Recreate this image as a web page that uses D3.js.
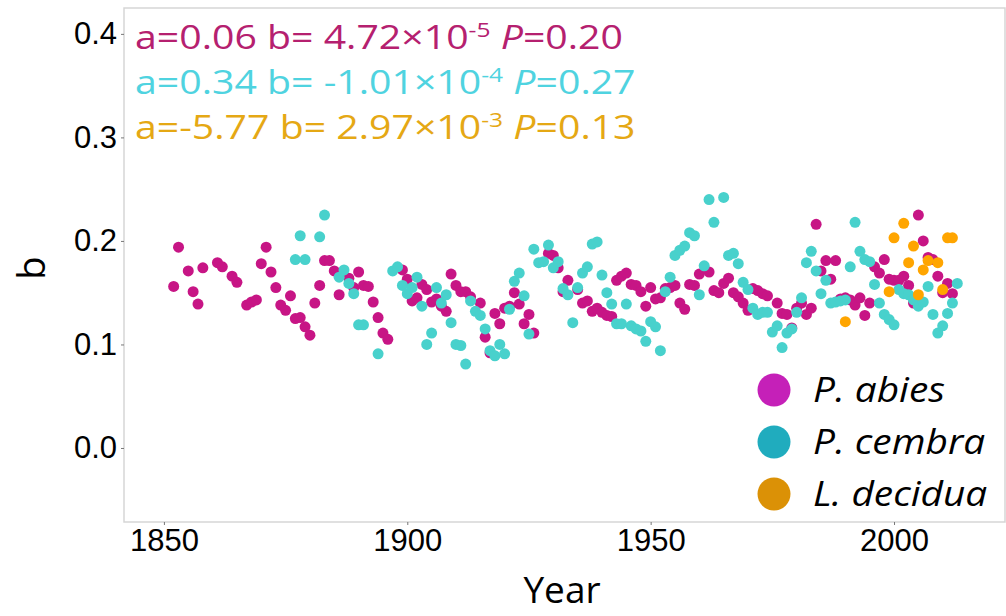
<!DOCTYPE html>
<html>
<head>
<meta charset="utf-8">
<script src="https://cdn.jsdelivr.net/npm/d3@7"></script>
<style>
  body { margin: 0; background: #fff; }
  svg { display: block; }
</style>
</head>
<body>
<div id="chart"></div>
<script>
// P. abies
const abiesYears = [1852,1853,1855,1856,1857,1858,1861,1862,1864,1865,1867,1868,1869,1870,1871,1872,1873,1874,1875,1876,1877,1878,1879,1880,1881,1882,1883,1884,1885,1886,1888,1889,1890,1891,1892,1893,1894,1895,1896,1899,1900,1901,1902,1903,1904,1905,1906,1907,1908,1909,1910,1911,1912,1913,1915,1916,1917,1918,1919,1920,1921,1922,1923,1924,1925,1926,1929,1930,1931,1932,1933,1935,1936,1937,1938,1939,1940,1941,1942,1943,1944,1945,1946,1947,1948,1949,1950,1951,1952,1953,1954,1955,1956,1957,1958,1959,1960,1962,1963,1964,1965,1966,1967,1968,1969,1970,1971,1972,1973,1974,1976,1977,1978,1979,1980,1981,1982,1983,1984,1985,1986,1987,1988,1989,1990,1991,1992,1993,1994,1995,1996,1997,1998,1999,2000,2001,2002,2003,2004,2005,2006,2007,2008,2009,2010,2011,2012];
const abiesB = [0.156,0.194,0.171,0.151,0.139,0.174,0.179,0.175,0.166,0.160,0.138,0.141,0.143,0.178,0.194,0.170,0.155,0.138,0.133,0.147,0.125,0.126,0.117,0.109,0.140,0.157,0.181,0.181,0.171,0.148,0.164,0.155,0.170,0.157,0.156,0.141,0.126,0.111,0.105,0.172,0.163,0.142,0.145,0.158,0.153,0.141,0.144,0.137,0.132,0.168,0.157,0.151,0.151,0.146,0.140,0.107,0.092,0.130,0.120,0.135,0.137,0.150,0.139,0.120,0.129,0.111,0.188,0.186,0.174,0.151,0.162,0.153,0.140,0.142,0.132,0.135,0.131,0.128,0.127,0.162,0.166,0.169,0.158,0.157,0.151,0.137,0.155,0.144,0.145,0.154,0.155,0.157,0.140,0.134,0.158,0.157,0.168,0.170,0.152,0.150,0.159,0.164,0.150,0.146,0.140,0.133,0.154,0.152,0.149,0.147,0.140,0.130,0.129,0.116,0.135,0.140,0.129,0.135,0.216,0.171,0.181,0.163,0.181,0.144,0.145,0.143,0.138,0.145,0.128,0.140,0.175,0.169,0.182,0.163,0.162,0.162,0.166,0.157,0.140,0.225,0.200,0.184,0.182,0.166,0.150,0.159,0.149];

// P. cembra
const cembraYears = [1877,1878,1879,1882,1883,1886,1887,1888,1889,1890,1891,1894,1897,1898,1899,1900,1901,1902,1903,1904,1905,1906,1907,1908,1909,1910,1911,1912,1913,1914,1915,1916,1917,1918,1919,1920,1921,1922,1923,1924,1925,1926,1927,1928,1929,1930,1931,1932,1933,1934,1935,1936,1937,1938,1939,1940,1941,1942,1943,1944,1945,1946,1947,1948,1949,1950,1951,1952,1953,1954,1955,1956,1957,1958,1959,1960,1961,1962,1963,1965,1966,1967,1968,1969,1970,1971,1972,1973,1974,1975,1976,1977,1978,1979,1980,1981,1982,1983,1984,1985,1986,1987,1988,1989,1990,1991,1992,1993,1994,1995,1996,1997,1998,1999,2000,2001,2002,2003,2004,2005,2006,2007,2008,2009,2010,2011,2012,2013];
const cembraB = [0.182,0.205,0.182,0.204,0.225,0.165,0.172,0.159,0.149,0.119,0.119,0.091,0.171,0.175,0.157,0.149,0.155,0.165,0.137,0.100,0.111,0.155,0.140,0.148,0.121,0.100,0.099,0.081,0.142,0.132,0.128,0.115,0.094,0.089,0.100,0.091,0.134,0.161,0.169,0.147,0.110,0.192,0.179,0.180,0.196,0.174,0.180,0.154,0.148,0.121,0.155,0.169,0.175,0.197,0.199,0.167,0.150,0.139,0.120,0.120,0.139,0.118,0.115,0.113,0.103,0.122,0.117,0.094,0.151,0.165,0.186,0.191,0.195,0.208,0.205,0.148,0.176,0.240,0.218,0.242,0.186,0.188,0.178,0.160,0.153,0.135,0.129,0.131,0.131,0.112,0.118,0.097,0.111,0.115,0.131,0.145,0.179,0.190,0.171,0.149,0.162,0.140,0.141,0.142,0.143,0.175,0.218,0.190,0.182,0.180,0.158,0.140,0.129,0.124,0.119,0.153,0.149,0.148,0.143,0.137,0.141,0.156,0.129,0.111,0.118,0.130,0.140,0.159];

// L. decidua
const deciduaYears = [1990,1999,2000,2002,2003,2004,2005,2006,2007,2009,2010,2011,2012];
const deciduaB = [0.122,0.151,0.203,0.217,0.179,0.195,0.148,0.172,0.181,0.179,0.153,0.203,0.203];

const xTicks = [1850, 1900, 1950, 2000];
const yTicks = [0.0, 0.1, 0.2, 0.3, 0.4];

const species = [
  { name: "P. abies", years: abiesYears, b: abiesB, color: "#C71585", key: "#C520B8" },
  { name: "P. cembra", years: cembraYears, b: cembraB, color: "#48D1CC", key: "#20ACBE" },
  { name: "L. decidua", years: deciduaYears, b: deciduaB, color: "#FFA500", key: "#DB9106" }
];

const statLines = [
  { a: "a=0.06 b= 4.72×10", exp: "-5", p: "=0.20", color: "#B5206F" },
  { a: "a=0.34 b= -1.01×10", exp: "-4", p: "=0.27", color: "#4FD3E0" },
  { a: "a=-5.77 b= 2.97×10", exp: "-3", p: "=0.13", color: "#E5A814" }
];

const W = 1006, H = 616;
const oMargin = { top: 8, right: 1, bottom: 94, left: 124 };
const iInnerW = W - oMargin.left - oMargin.right;
const iInnerH = H - oMargin.top - oMargin.bottom;

const svg = d3.select("#chart").append("svg").attr("width", W).attr("height", H);
const g = svg.append("g").attr("transform", `translate(${oMargin.left},${oMargin.top})`);

const x = d3.scaleLinear().domain([1841.8, 2022.8]).range([0, iInnerW]);
const y = d3.scaleLinear().domain([-0.0715, 0.425]).range([iInnerH, 0]);

// panel border
g.append("rect")
  .attr("x", 0).attr("y", 0).attr("width", iInnerW).attr("height", iInnerH)
  .attr("fill", "none").attr("stroke", "#d6d6d6").attr("stroke-width", 1.5);

// axes
const xAxis = g.append("g").attr("transform", `translate(0,${iInnerH})`)
  .call(d3.axisBottom(x).tickValues(xTicks).tickFormat(d3.format("d")).tickSize(3).tickSizeOuter(0));
const yAxis = g.append("g")
  .call(d3.axisLeft(y).tickValues(yTicks).tickFormat(d3.format(".1f")).tickSize(3).tickSizeOuter(0));
[xAxis, yAxis].forEach(a => {
  a.select(".domain").remove();
  a.selectAll(".tick line").attr("stroke", "#777");
  a.selectAll(".tick text")
    .attr("font-family", "'Liberation Sans', Arial, sans-serif")
    .attr("font-size", "31px").attr("fill", "#000");
});
xAxis.selectAll(".tick text").attr("dy", "0.74em");
yAxis.selectAll(".tick text").attr("dx", "-1px");

// points
species.forEach(s => {
  const aData = s.years.map((yr, i) => [yr, s.b[i]]);
  g.append("g").selectAll("circle").data(aData)
    .enter().append("circle")
    .attr("cx", d => x(d[0]))
    .attr("cy", d => y(d[1]))
    .attr("r", 5.5)
    .attr("fill", s.color);
});

// stats text, stretched horizontally like the original
const sFont = "'Open Sans', Lato, sans-serif";
const aStat = statLines.map((l, i) => {
  const t = svg.append("text")
    .attr("font-family", sFont).attr("font-size", "32px").attr("fill", l.color);
  t.append("tspan").text(l.a);
  t.append("tspan").attr("dy", "-12").attr("font-size", "20px").text(l.exp);
  t.append("tspan").attr("dy", "12").text(" ");
  t.append("tspan").attr("font-style", "italic").text("P");
  t.append("tspan").text(l.p);
  return t;
});
const fStatScale = 488 / aStat[0].node().getComputedTextLength();
aStat.forEach((t, i) => t.attr("transform", `translate(135,${49 + i * 45}) scale(${fStatScale},1)`));

// legend
const gLegend = svg.append("g");
species.forEach((s, i) => {
  const cy = 390 + i * 52;
  gLegend.append("circle").attr("cx", 774).attr("cy", cy).attr("r", 16.5).attr("fill", s.key);
  const t = gLegend.append("text")
    .attr("font-family", sFont).attr("font-style", "italic")
    .attr("font-size", "34px").attr("fill", "#000").text(s.name);
  s.legendText = t;
});
const fLegScale = 132 / species[0].legendText.node().getComputedTextLength();
species.forEach((s, i) => s.legendText.attr("transform", `translate(813,${390 + i * 52 + 12}) scale(${fLegScale},1)`));

// axis titles
svg.append("text").attr("x", 562).attr("y", 603).attr("text-anchor", "middle")
  .attr("font-family", sFont).attr("font-size", "37px").attr("fill", "#000").text("Year");
svg.append("text").attr("transform", "translate(45,268) rotate(-90)").attr("text-anchor", "middle")
  .attr("font-family", sFont).attr("font-size", "38px").attr("fill", "#000").text("b");
</script>
</body>
</html>
